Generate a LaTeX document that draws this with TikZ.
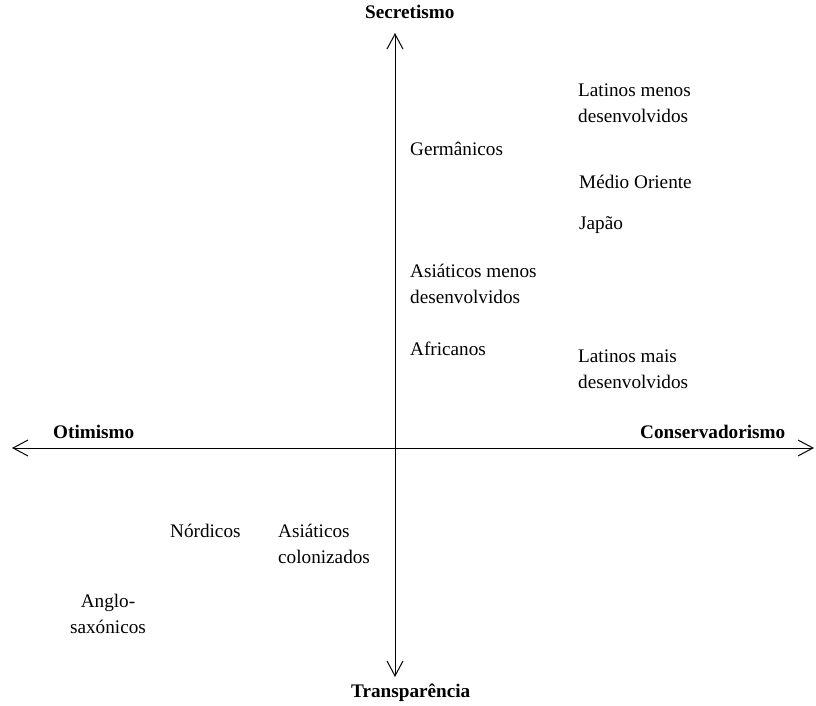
\documentclass[tikz,border=0pt]{standalone}
\usepackage{fontspec}
\setmainfont{Liberation Serif}
\usetikzlibrary{arrows.meta}
\begin{document}
\begin{tikzpicture}[x=1pt, y=-1pt,
  lbl/.style={inner sep=0pt, anchor=base west, align=left, font=\fontsize{19.2}{26}\selectfont},
  ttl/.style={lbl, font=\fontsize{19.2}{26}\selectfont\bfseries},
  axis/.style={line width=1pt, {Straight Barb[length=15pt, width=16pt, line width=1pt]}-{Straight Barb[length=15pt, width=16pt, line width=1pt]}}]
\useasboundingbox (0,0) rectangle (816,706);
\coordinate (ax0) at (395,33);
\coordinate (ax1) at (395,677);
\coordinate (ax2) at (12,448);
\coordinate (ax3) at (814,448);
\draw[axis] (ax1) -- (ax0);
\draw[axis] (ax2) -- (ax3);
% titulos dos eixos
\node[ttl] (sec) at (365,19) {Secretismo};
\node[ttl] (tra) at (351,697) {Transparência};
\node[ttl] (oti) at (53,438) {Otimismo};
\node[ttl] (con) at (640,438) {Conservadorismo};
% grupos (base = ultima linha)
\node[lbl] (ger) at (410,155) {Germânicos};
\node[lbl] (lme) at (578,123) {Latinos menos\\desenvolvidos};
\node[lbl] (mor) at (579,188) {Médio Oriente};
\node[lbl] (jap) at (579,229) {Japão};
\node[lbl] (ame) at (410,303) {Asiáticos menos\\desenvolvidos};
\node[lbl] (afr) at (410,355) {Africanos};
\node[lbl] (lma) at (578,388) {Latinos mais\\desenvolvidos};
\node[lbl] (nor) at (170,537) {Nórdicos};
\node[lbl] (aco) at (278,563) {Asiáticos\\colonizados};
\node[lbl, align=center, anchor=base] (ang) at (108,633) {Anglo-\\saxónicos};
\end{tikzpicture}
\end{document}
